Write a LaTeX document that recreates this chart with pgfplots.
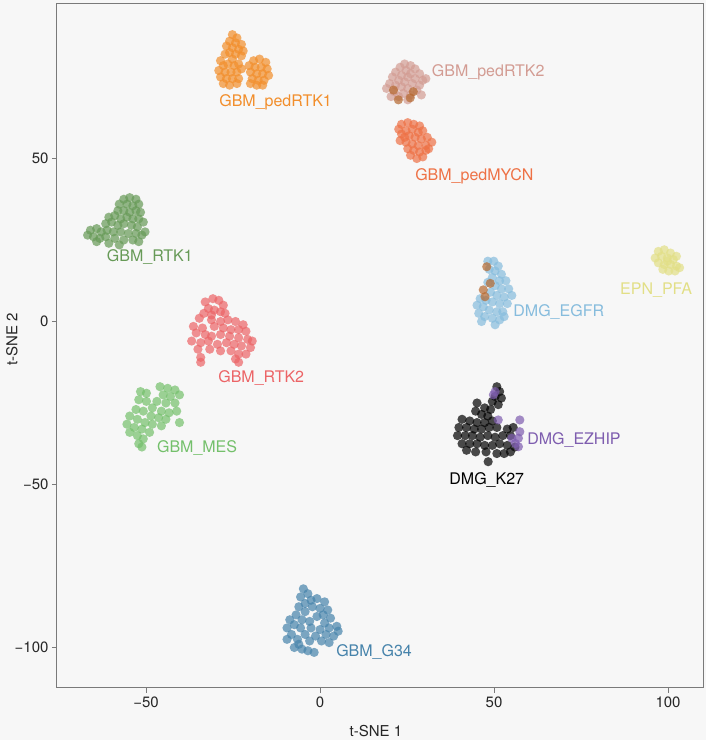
\documentclass[border=0pt]{standalone}
\usepackage{pgfplots}
\pgfplotsset{compat=1.18}
\usepackage{fontspec}
\setmainfont{TeX Gyre Heros}
\definecolor{bg}{HTML}{F7F7F7}
\definecolor{frame}{HTML}{7A7A7A}
\definecolor{cRTKa}{HTML}{F28E2B}
\definecolor{cRTKb}{HTML}{D39C93}
\definecolor{cBrown}{HTML}{B5682F}
\definecolor{cMYCN}{HTML}{EE7145}
\definecolor{cRTK1}{HTML}{679A57}
\definecolor{cRTK2}{HTML}{EC6466}
\definecolor{cMES}{HTML}{74C06B}
\definecolor{cEGFR}{HTML}{86BCDD}
\definecolor{cEPN}{HTML}{E2DF86}
\definecolor{cK27}{HTML}{000000}
\definecolor{cEZHIP}{HTML}{7E5DAF}
\definecolor{cG34}{HTML}{4683AB}
\newcommand{\lab}{\fontsize{15}{18}\selectfont}
\newcommand{\glab}{\fontsize{16}{19}\selectfont}
\pgfplotsset{pts/.style={only marks, mark=*, mark size=4.6pt, mark options={draw opacity=0, fill=#1, fill opacity=0.7}}}
\begin{document}
\begin{tikzpicture}[x=1pt,y=1pt]
\fill[bg] (-57,-52) rectangle (649,688);
\begin{axis}[
  at={(0,0)}, anchor=south west,
  width=647pt, height=684pt, scale only axis,
  xmin=-75.6, xmax=110.3, ymin=-112.4, ymax=97.4,
  axis background/.style={fill=bg},
  axis line style={frame, line width=1pt},
  xtick={-50,0,50,100}, ytick={-100,-50,0,50},
  xticklabels={\char"2212 50,0,50,100},
  yticklabels={\char"2212 100,\char"2212 50,0,50},
  xtick pos=left, ytick pos=left, tick align=outside,
  major tick length=5pt,
  tick style={frame, line width=1pt},
  tick label style={font=\lab, text=black!85},
  xlabel={t-SNE 1}, ylabel={t-SNE 2},
  label style={font=\lab, text=black!85},
  xlabel style={at={(axis description cs:0.493,-0.0629)}, anchor=center},
  ylabel style={at={(axis description cs:-0.0696,0.51)}, anchor=center},
  clip=false,
]
% GBM_pedRTK1
\addplot[pts=cRTKa] coordinates {
(-25.2,88)(-23.9,87)(-26.0,86)(-24.3,85.5)(-22.6,85)(-26.9,84.5)(-25.2,84)(-23.4,83.5)(-22.1,83)(-26.0,82.5)(-24.3,82)(-22.6,81.5)(-27.3,82)(-25.2,80.5)
(-28.6,80)(-27.8,78.5)(-26.5,79)(-24.7,78.5)(-23.4,79)(-29.1,77)(-27.3,76.5)(-25.6,76.5)(-23.9,76.5)(-22.6,77.5)(-28.6,75)(-26.9,74.5)(-25.2,74.5)(-23.4,74.5)(-27.8,73)(-26.0,72.5)(-23.9,73)
(-19.1,80)(-17.4,80.5)(-15.6,79.5)(-20.4,78.5)(-18.7,78)(-16.9,78)(-15.2,77.5)(-20.0,76.5)(-18.2,76)(-16.5,76)(-14.8,75.5)(-19.5,74.5)(-17.8,74)(-16.1,74)(-18.2,72.5)(-16.5,72.5)(-20.0,73)
};
% GBM_pedRTK2
\addplot[pts=cRTKb] coordinates {
(24.3,79)(26.0,78.5)(23.0,78)(27.3,77.5)(24.7,77)(21.7,76.5)(26.0,76)(28.6,76)(23.4,75.5)(25.2,75)(20.8,75)(27.3,74.5)(29.5,74)(22.6,74)(24.3,73.5)(26.5,73)(28.6,72.5)(20.0,73)(21.7,72.5)(23.4,72)(25.2,71.5)(27.8,71)(19.1,71.5)(21.3,70.5)(23.9,70)(26.0,69.5)(29.1,69.5)(20.4,69)(22.6,69)(25.2,68)(30.4,74.5)
};
% GBM_pedMYCN
\addplot[pts=cMYCN] coordinates {
(23.4,60.5)(25.2,61)(26.9,60.5)(28.6,60)(22.6,59)(24.7,58.5)(26.5,59)(28.2,58)(29.5,58.5)(23.4,57.5)(25.6,57)(27.3,56.5)(29.1,56)(30.8,56.5)(23.0,55.5)(24.7,55)(26.5,54.5)(28.2,54)(30.4,54)(32.1,55)(25.2,53)(26.9,52.5)(28.6,52)(30.4,52.5)(26.0,51)(27.8,50)(29.5,50.5)(24.3,56.5)(31.2,53)
};
% GBM_RTK1
\addplot[pts=cRTK1] coordinates {
(-56.4,37.5)(-54.7,38)(-52.9,37.5)(-57.7,36)(-55.5,36)(-53.8,35.5)(-52.1,36)(-58.1,34)(-56.4,34)(-54.7,33.5)(-52.9,34)(-51.6,33.5)
(-60.7,32)(-59.0,32.5)(-57.3,31.5)(-55.5,32)(-53.8,31.5)(-52.1,31.5)(-50.8,30.5)(-61.6,30)(-59.9,30.5)(-58.1,29.5)(-56.4,30)(-54.2,29.5)(-52.5,29)
(-66.0,28)(-64.2,28.5)(-62.9,27.5)(-61.2,28)(-59.4,27.5)(-57.3,27.5)(-55.1,27)(-52.9,27)(-51.2,26.5)(-66.8,26.5)(-65.1,26)(-63.3,25.5)(-61.6,26)(-59.0,25.5)(-56.4,25)(-53.8,25)(-52.1,24.5)(-64.2,24.5)(-60.7,24)(-57.7,23.5)(-50.3,27.5)
};
% GBM_RTK2
\addplot[pts=cRTK2] coordinates {
(-33.0,6)(-30.8,7)(-29.1,6.5)(-27.8,5)(-32.1,4)(-30.4,3.5)(-28.6,3)(-31.2,2)(-33.4,2.5)(-27.3,2.5)
(-34.7,1)(-31.2,0.5)(-28.6,0)(-26.5,0.5)(-24.3,0)(-22.1,-1)(-36.4,-1.5)(-33.8,-2)(-30.4,-1.5)(-27.8,-2)(-25.6,-2.5)(-23.4,-2.5)(-21.3,-3)(-35.6,-3.5)(-33.0,-4)(-31.2,-4.5)(-28.6,-4)(-26.0,-4.5)(-23.4,-5)(-20.8,-5.5)(-19.5,-6)(-36.9,-6)(-34.3,-6.5)(-32.1,-6)(-29.5,-7)(-26.9,-6.5)(-24.7,-7)(-22.6,-7.5)(-20.0,-8)(-35.1,-8.5)(-31.7,-8.5)(-28.6,-9)(-25.6,-9)(-23.4,-10)(-21.3,-10)(-34.3,-11)(-34.3,-12.5)(-24.3,-11.5)(-23.4,-12.5)
};
% GBM_MES
\addplot[pts=cMES] coordinates {
(-46.0,-20)(-43.8,-20.5)(-41.7,-21)(-40.4,-22.5)(-45.1,-22.5)(-43.0,-23)(-46.9,-24.5)(-44.3,-25)(-41.7,-25)(-51.6,-21.5)(-49.9,-22)(-52.1,-24)(-49.9,-24.5)(-48.2,-26.5)(-45.6,-27.5)(-43.4,-28)(-41.2,-27.5)(-52.9,-27)(-50.8,-27.5)(-48.6,-29)(-46.4,-29.5)(-44.3,-30)(-40.4,-31)(-54.7,-29)(-52.5,-30)(-50.3,-31)(-48.2,-31.5)(-45.6,-32)(-55.5,-31.5)(-53.4,-32.5)(-51.2,-33)(-49.0,-34)(-54.7,-34)(-52.5,-35)(-50.8,-36)(-52.1,-37.5)(-51.2,-38.5)
};
% DMG_EGFR
\addplot[pts=cEGFR] coordinates {
(48.2,18.5)(49.9,18.5)(51.2,17)(48.6,16)(50.3,15.5)(52.1,14.5)(49.5,13.5)(51.6,12.5)(53.4,12.5)(48.2,12)(50.3,11)(52.1,10)(54.2,10)(49.0,9)(50.8,8)(52.9,7.5)(55.1,8)(46.0,7)(47.7,6.5)(49.5,6)(51.6,5.5)(53.8,5.5)(45.1,5)(46.9,4.5)(48.6,3.5)(50.8,3)(52.5,3)(45.6,2.5)(47.3,1.5)(49.5,1)(51.6,0.5)(46.4,0)(50.3,-1)(52.9,1.5)
};
% brown (unlabelled)
\addplot[pts=cBrown] coordinates {
(21.1,71)(22.5,68)(25.9,68.6)(26.8,70.5)
(47.9,16.8)(48.9,11.7)(46.9,9.7)(47.4,7.6)
};
% EPN_PFA
\addplot[pts=cEPN] coordinates {
(97.2,21.5)(98.9,22)(100.7,21)(96.3,19.5)(98.1,20)(99.8,19.5)(101.5,19)(102.4,20)(97.2,18)(98.9,17.5)(100.7,17.5)(102.4,17)(98.5,16)(100.2,15.5)(102.0,15.5)(103.3,16.5)(99.8,18.5)
};
% DMG_K27
\addplot[pts=cK27] coordinates {
(50.8,-20)(51.6,-21.5)(50.3,-23)(52.1,-23.5)(49.5,-24.5)(51.2,-25.5)
(45.1,-25)(47.3,-26.5)(49.0,-27)(44.7,-27.5)(46.4,-28.5)(48.2,-29)
(40.8,-30)(43.0,-30.5)(45.1,-31)(47.3,-31)(49.5,-30.5)(39.9,-32.5)(42.1,-32.5)(44.3,-33)(46.4,-33)(48.6,-32.5)(50.8,-32.5)(53.8,-33)(55.5,-32.5)(39.5,-35)(41.7,-35)(43.8,-35)(46.0,-35.5)(48.2,-35)(50.3,-35.5)(52.5,-35)(54.7,-35)(40.8,-37.5)(43.0,-37.5)(45.1,-37.5)(47.3,-38)(49.5,-38)(51.6,-37.5)(53.8,-38)(56.0,-38.5)(42.1,-39.5)(44.7,-40)(47.7,-40)(50.8,-40.5)(52.9,-40.5)(54.7,-40)(48.3,-43)
};
% DMG_EZHIP
\addplot[pts=cEZHIP] coordinates {
(50.3,-21.5)(49.8,-22.5)(51.2,-30.2)(57.4,-30.2)(57.4,-33.8)(57.0,-35.8)(56.1,-37.4)(55.1,-35.8)(57.0,-38.4)
};
% GBM_G34
\addplot[pts=cG34] coordinates {
(-4.8,-82)(-3.5,-83.5)(-5.6,-84.5)(-2.6,-85.5)(-0.9,-85)(1.3,-86)(-4.3,-86.5)(-6.1,-87.5)(-2.2,-87.5)(0,-88)(2.2,-88.5)(-4.3,-89)(-6.9,-90)(-0.9,-90.5)(0.9,-90)(3.0,-91)(-8.7,-91.5)(-5.2,-91.5)(-3.0,-92)(1.3,-92.5)(-7.4,-93)(-9.5,-94)(-5.6,-94)(-2.6,-94)(0,-94.5)(2.6,-94)(4.8,-93.5)(-8.2,-96)(-4.3,-96)(-1.3,-96.5)(1.7,-96)(3.9,-96.5)(-9.5,-97.5)(-6.5,-97.5)(-3.0,-98)(0.4,-98)(2.6,-98.5)(-7.4,-100)(-5.2,-100.5)(-3.5,-101)(-1.7,-101.5)(-6.1,-99)(5.2,-95)
};
% labels
\node[anchor=west, inner sep=0, font=\glab, text=cRTKa] at (axis cs:-29.0,67.3) {GBM\_pedRTK1};
\node[anchor=west, inner sep=0, font=\glab, text=cRTKb] at (axis cs:32.1,76.6) {GBM\_pedRTK2};
\node[anchor=west, inner sep=0, font=\glab, text=cMYCN] at (axis cs:27.3,44.6) {GBM\_pedMYCN};
\node[anchor=west, inner sep=0, font=\glab, text=cRTK1] at (axis cs:-61.3,19.9) {GBM\_RTK1};
\node[anchor=west, inner sep=0, font=\glab, text=cRTK2] at (axis cs:-29.3,-17.3) {GBM\_RTK2};
\node[anchor=west, inner sep=0, font=\glab, text=cMES] at (axis cs:-46.9,-38.8) {GBM\_MES};
\node[anchor=west, inner sep=0, font=\glab, text=cEGFR] at (axis cs:55.5,3) {DMG\_EGFR};
\node[anchor=west, inner sep=0, font=\glab, text=cEZHIP] at (axis cs:59.5,-36.3) {DMG\_EZHIP};
\node[anchor=west, inner sep=0, font=\glab, text=cK27] at (axis cs:37.1,-48.6) {DMG\_K27};
\node[anchor=west, inner sep=0, font=\glab, text=cG34] at (axis cs:4.6,-101.5) {GBM\_G34};
\node[anchor=west, inner sep=0, font=\glab, text=cEPN] at (axis cs:86.2,9.7) {EPN\_PFA};
\end{axis}
\end{tikzpicture}
\end{document}
